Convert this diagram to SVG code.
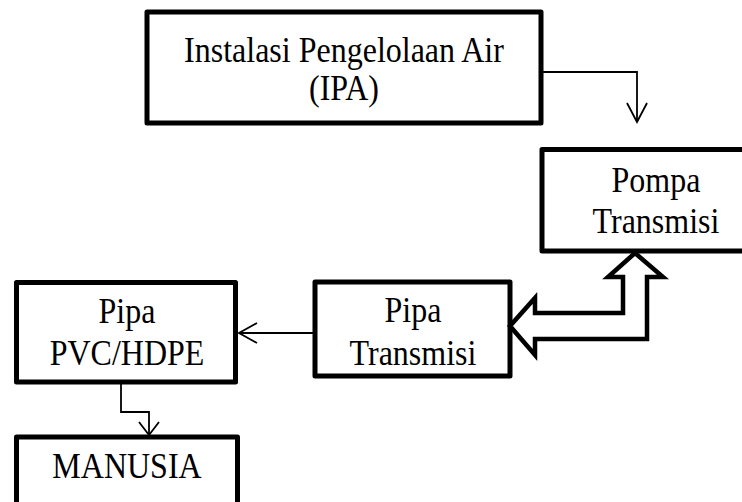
<svg xmlns="http://www.w3.org/2000/svg" width="742" height="502" viewBox="0 0 742 502">
<style>
.box{fill:#fff;stroke:#000;stroke-width:5;stroke-linejoin:round}
.t{font-family:"Liberation Serif","Times New Roman",serif;font-size:32px;fill:#000;text-anchor:middle}
.ln{fill:none;stroke:#000;stroke-width:1.8}
.blk{fill:#fff;stroke:#000;stroke-width:4.5;stroke-linejoin:miter}
</style>
<rect width="742" height="502" fill="#fff"/>
<g id="ipa">
<rect class="box" x="147" y="12" width="394" height="111"/>
<text class="t" transform="translate(344,62) scale(1,1.1)">Instalasi Pengelolaan Air</text>
<text class="t" transform="translate(344,100) scale(1,1.1)">(IPA)</text>
</g>
<g id="pompa">
<rect class="box" x="542" y="149.5" width="210" height="101.5"/>
<text class="t" transform="translate(656,192) scale(1,1.1)">Pompa</text>
<text class="t" transform="translate(656,233) scale(1,1.1)">Transmisi</text>
</g>
<g id="pipa-transmisi">
<rect class="box" x="315" y="282" width="195" height="94"/>
<text class="t" transform="translate(413,322) scale(1,1.1)">Pipa</text>
<text class="t" transform="translate(413,365) scale(1,1.1)">Transmisi</text>
</g>
<g id="pipa-pvc">
<rect class="box" x="16.5" y="282.5" width="219" height="99.5"/>
<text class="t" transform="translate(127,323) scale(1,1.1)">Pipa</text>
<text class="t" transform="translate(127,365) scale(1,1.1)">PVC/HDPE</text>
</g>
<g id="manusia">
<rect class="box" x="16.5" y="437" width="221" height="75"/>
<text class="t" transform="translate(127,478) scale(1,1.1)">MANUSIA</text>
</g>
<g id="connectors">
<polyline class="ln" points="541,72 637,72 637,122"/>
<polyline class="ln" points="627,103 637,122 647,103"/>
<line class="ln" x1="313" y1="333" x2="239" y2="333"/>
<polyline class="ln" points="257,323 239,333 257,343"/>
<polyline class="ln" points="121,382 121,412 149,412 149,435"/>
<polyline class="ln" points="139,422 149,435 159,422"/>
<polygon class="blk" points="635,253 663,277 647,277 647,339 535,339 535,355 510,326 535,298 535,313 623,313 623,277 608,277"/>
</g>
</svg>
